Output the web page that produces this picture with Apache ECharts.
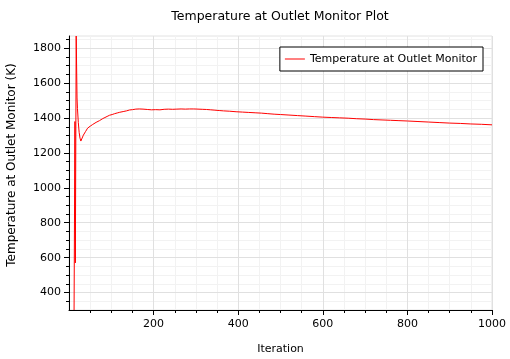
<!DOCTYPE html>
<html>
<head>
<meta charset="utf-8">
<script src="https://cdn.jsdelivr.net/npm/echarts@6/dist/echarts.min.js"></script>
<style>
html,body{margin:0;padding:0;background:#fff;}
#c{width:510px;height:359px;}
</style>
</head>
<body>
<div id="c"></div>
<script>
var iterations = [12, 14, 15, 17, 19, 20, 22, 24, 26, 28, 30, 32, 34, 35, 36, 38, 39, 40, 42, 43, 44, 46, 48, 49, 50, 53, 56, 58, 60, 64, 68, 72, 76, 80, 85, 90, 96, 102, 108, 114, 120, 128, 136, 143, 150, 158, 166, 175, 185, 195, 205, 215, 225, 235, 245, 255, 265, 275, 285, 295, 305, 315, 325, 335, 345, 355, 365, 380, 395, 410, 425, 440, 455, 470, 485, 500, 520, 540, 560, 580, 600, 620, 640, 660, 680, 700, 720, 740, 760, 780, 800, 825, 850, 875, 900, 925, 950, 975, 1000];
var temperature = [300, 1380, 570, 1870, 1515, 1455, 1375, 1318, 1285, 1268, 1262, 1278, 1302, 1306, 1312, 1308, 1322, 1325, 1332, 1330, 1342, 1338, 1347, 1345, 1353, 1359, 1363, 1361, 1369, 1375, 1379, 1385, 1390, 1397, 1403, 1409, 1416, 1420, 1425, 1429, 1433, 1437, 1441, 1446, 1448, 1451, 1452, 1451, 1449, 1447, 1448, 1447, 1450, 1451, 1450, 1451, 1452, 1451, 1452, 1452, 1451, 1450, 1449, 1447, 1445, 1443, 1441, 1439, 1436, 1434, 1432, 1430, 1428, 1425, 1422, 1420, 1417, 1414, 1411, 1408, 1405, 1403, 1401, 1399, 1396, 1394, 1391, 1389, 1387, 1385, 1383, 1380, 1377, 1374, 1371, 1369, 1366, 1364, 1361];
var xMajorTicks = [200, 400, 600, 800, 1000];
var xMinorTicks = [50, 100, 150, 250, 300, 350, 450, 500, 550, 650, 700, 750, 850, 900, 950];
var yMajorTicks = [400, 600, 800, 1000, 1200, 1400, 1600, 1800];
var yMinorTicks = [350, 450, 500, 550, 650, 700, 750, 850, 900, 950, 1050, 1100, 1150, 1250, 1300, 1350, 1450, 1500, 1550, 1650, 1700, 1750, 1850];
var xRange = [0, 1000];
var yRange = [300, 1870];
var seriesName = 'Temperature at Outlet Monitor';

var FONT = 'DejaVu Sans';
var pts = iterations.map(function (x, i) { return [x, temperature[i]]; });
function plain(v) { return String(v); }

var chart = echarts.init(document.getElementById('c'), null, {renderer: 'canvas'});
chart.setOption({
  animation: false,
  backgroundColor: '#fff',
  title: {
    text: 'Temperature at Outlet Monitor Plot',
    left: 280, top: 10, padding: 0, textAlign: 'center',
    textStyle: {fontFamily: FONT, fontSize: 12.5, fontWeight: 'normal', color: '#000'}
  },
  legend: {
    right: 27, top: 47,
    padding: [5, 6, 5, 5],
    borderColor: '#000', borderWidth: 1, backgroundColor: '#fff',
    icon: 'rect',
    itemWidth: 20, itemHeight: 1,
    textStyle: {fontFamily: FONT, fontSize: 11, color: '#000', lineHeight: 14},
    data: [seriesName]
  },
  grid: {left: 69, right: 18, top: 36, bottom: 49, outerBoundsMode: 'none', containLabel: false, show: true, borderColor: '#e2e2e2', borderWidth: 1, backgroundColor: 'transparent'},
  xAxis: [{
    type: 'value', min: xRange[0], max: xRange[1],
    name: 'Iteration', nameLocation: 'middle', nameGap: 34,
    nameTextStyle: {fontFamily: FONT, fontSize: 11, color: '#000'},
    axisLine: {onZero: false, lineStyle: {color: '#000', width: 1}},
    axisTick: {customValues: xMajorTicks, length: 5, lineStyle: {color: '#000'}},
    axisLabel: {customValues: xMajorTicks, formatter: plain, margin: 9, fontFamily: FONT, fontSize: 11, color: '#000'},
    splitLine: {show: true, lineStyle: {color: '#e0e0e0', width: 1}},
    z: 3
  }, {
    type: 'value', min: xRange[0], max: xRange[1], position: 'bottom', offset: 0,
    axisLine: {show: false},
    axisTick: {customValues: xMinorTicks, length: 3, lineStyle: {color: '#000'}},
    axisLabel: {show: false},
    splitLine: {show: true, lineStyle: {color: '#f2f2f2', width: 1}},
    z: 2
  }],
  yAxis: [{
    type: 'value', min: yRange[0], max: yRange[1],
    name: 'Temperature at Outlet Monitor (K)', nameLocation: 'middle', nameGap: 51,
    nameTextStyle: {fontFamily: FONT, fontSize: 12, color: '#000', padding: [0, 0, 0, 16]},
    axisLine: {show: true, onZero: false, lineStyle: {color: '#000', width: 1}},
    axisTick: {show: true, customValues: yMajorTicks, length: 5, lineStyle: {color: '#000'}},
    axisLabel: {customValues: yMajorTicks, formatter: plain, margin: 8, fontFamily: FONT, fontSize: 11, color: '#000'},
    splitLine: {show: true, lineStyle: {color: '#e0e0e0', width: 1}},
    z: 3
  }, {
    type: 'value', min: yRange[0], max: yRange[1], position: 'left', offset: 0,
    axisLine: {show: false},
    axisTick: {show: true, customValues: yMinorTicks, length: 3, lineStyle: {color: '#000'}},
    axisLabel: {show: false},
    splitLine: {show: true, lineStyle: {color: '#f2f2f2', width: 1}},
    z: 2
  }],
  series: [{
    name: seriesName, type: 'line', xAxisIndex: 0, yAxisIndex: 0,
    data: pts, symbol: 'none', showSymbol: false,
    lineStyle: {color: '#ff0000', width: 1},
    itemStyle: {color: '#ff0000'},
    clip: true, z: 5
  }]
});
</script>
</body>
</html>
